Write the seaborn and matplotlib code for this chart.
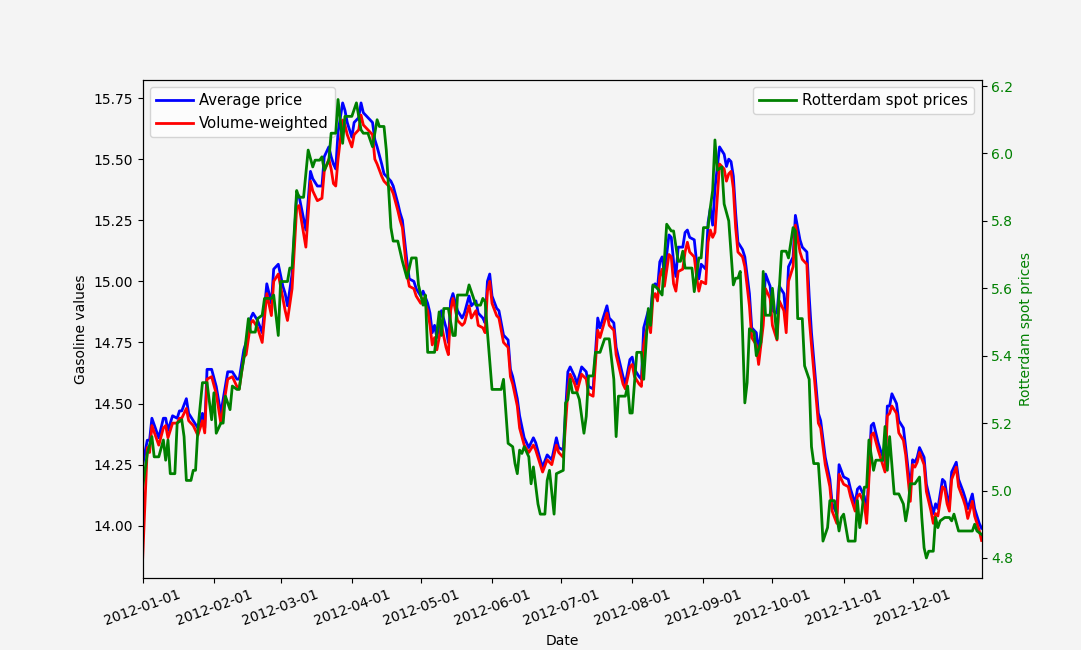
import pandas as pd
import matplotlib
matplotlib.use("Agg")
import matplotlib.pyplot as plt
import matplotlib.dates as mdates
import seaborn as sns

# day of 2012 (0 = 1 Jan) and daily gasoline prices
avg_day = [0, 2, 3, 4, 7, 9, 10, 11, 13, 15, 16, 17, 19, 20, 22, 24, 26, 27, 28, 30,
           32, 34, 37, 39, 41, 42, 44, 45, 47, 48, 50, 52, 54, 56, 57, 59, 61, 62, 63, 65,
           67, 68, 71, 73, 74, 76, 78, 79, 81, 82, 83, 84, 85, 87, 88, 89, 91, 92, 94, 95,
           96, 98, 100, 101, 102, 104, 105, 108, 109, 111, 112, 113, 115, 116, 118, 119, 121, 122, 124, 125,
           126, 127, 128, 130, 132, 133, 134, 135, 137, 139, 140, 142, 143, 145, 146, 148, 149, 150, 151, 152,
           154, 155, 157, 159, 160, 161, 163, 164, 166, 168, 170, 171, 173, 174, 176, 178, 180, 181, 183, 185,
           186, 188, 189, 191, 193, 194, 196, 198, 199, 202, 203, 205, 206, 208, 209, 210, 212, 213, 214, 216,
           217, 218, 220, 221, 222, 223, 224, 225, 226, 227, 229, 230, 231, 232, 233, 235, 236, 237, 238, 240,
           241, 242, 243, 245, 246, 247, 248, 249, 251, 253, 254, 255, 256, 257, 258, 259, 261, 262, 264, 265,
           267, 268, 270, 271, 273, 274, 276, 277, 279, 280, 281, 283, 284, 286, 287, 289, 290, 291, 294, 295,
           297, 299, 300, 302, 303, 305, 307, 308, 310, 311, 312, 314, 315, 317, 318, 320, 321, 323, 324, 325,
           326, 328, 329, 331, 332, 334, 335, 336, 337, 338, 340, 341, 343, 344, 345, 346, 348, 349, 350, 351,
           352, 354, 355, 357, 358, 359, 361, 362, 364, 365]

avg_price = [14.25, 14.35, 14.35, 14.44, 14.36, 14.44, 14.44, 14.39, 14.45, 14.44, 14.47, 14.47, 14.52, 14.46, 14.43, 14.40, 14.46, 14.40, 14.64, 14.64,
             14.57, 14.46, 14.63, 14.63, 14.60, 14.60, 14.72, 14.75, 14.85, 14.87, 14.84, 14.79, 14.99, 14.91, 15.05, 15.07, 14.98, 14.95, 14.90, 15.03,
             15.35, 15.35, 15.21, 15.45, 15.42, 15.39, 15.39, 15.51, 15.55, 15.51, 15.48, 15.46, 15.61, 15.73, 15.70, 15.65, 15.59, 15.65, 15.67, 15.73,
             15.69, 15.67, 15.65, 15.58, 15.55, 15.48, 15.44, 15.41, 15.39, 15.32, 15.28, 15.25, 15.08, 15.01, 15.00, 14.97, 14.94, 14.96, 14.91, 14.87,
             14.79, 14.82, 14.77, 14.88, 14.81, 14.75, 14.92, 14.95, 14.88, 14.85, 14.87, 14.94, 14.90, 14.92, 14.87, 14.85, 14.83, 15.00, 15.03, 14.94,
             14.89, 14.88, 14.78, 14.76, 14.64, 14.61, 14.52, 14.45, 14.36, 14.32, 14.36, 14.34, 14.27, 14.24, 14.29, 14.27, 14.36, 14.32, 14.31, 14.63,
             14.65, 14.61, 14.58, 14.65, 14.63, 14.57, 14.56, 14.85, 14.81, 14.90, 14.85, 14.83, 14.73, 14.65, 14.61, 14.58, 14.68, 14.69, 14.64, 14.61,
             14.60, 14.81, 14.88, 14.87, 14.98, 14.99, 14.97, 15.08, 15.10, 15.03, 15.19, 15.18, 15.08, 15.02, 15.14, 15.14, 15.20, 15.21, 15.18, 15.17,
             15.08, 15.01, 15.07, 15.05, 15.24, 15.30, 15.23, 15.38, 15.55, 15.52, 15.47, 15.50, 15.49, 15.43, 15.28, 15.16, 15.13, 15.10, 14.95, 14.81,
             14.79, 14.71, 14.87, 15.03, 14.98, 14.88, 14.87, 14.98, 14.95, 14.84, 15.06, 15.10, 15.27, 15.17, 15.14, 15.12, 14.94, 14.79, 14.46, 14.43,
             14.28, 14.19, 14.09, 14.05, 14.25, 14.20, 14.19, 14.15, 14.09, 14.15, 14.16, 14.12, 14.04, 14.41, 14.42, 14.34, 14.31, 14.26, 14.49, 14.49,
             14.54, 14.50, 14.43, 14.40, 14.32, 14.15, 14.27, 14.26, 14.28, 14.32, 14.28, 14.17, 14.09, 14.05, 14.09, 14.07, 14.19, 14.18, 14.12, 14.09,
             14.22, 14.26, 14.19, 14.14, 14.11, 14.07, 14.13, 14.07, 14.01, 13.99]

vw_price = [13.87, 14.32, 14.30, 14.41, 14.33, 14.40, 14.41, 14.36, 14.42, 14.42, 14.44, 14.44, 14.48, 14.43, 14.41, 14.37, 14.43, 14.38, 14.60, 14.61,
            14.54, 14.42, 14.60, 14.61, 14.57, 14.56, 14.69, 14.70, 14.83, 14.84, 14.81, 14.75, 14.95, 14.86, 15.00, 15.03, 14.93, 14.88, 14.84, 14.97,
            15.30, 15.31, 15.14, 15.41, 15.37, 15.33, 15.34, 15.45, 15.50, 15.46, 15.40, 15.39, 15.50, 15.66, 15.64, 15.60, 15.55, 15.60, 15.62, 15.68,
            15.64, 15.62, 15.60, 15.50, 15.48, 15.43, 15.41, 15.38, 15.36, 15.29, 15.25, 15.22, 15.03, 14.98, 14.97, 14.94, 14.91, 14.93, 14.88, 14.82,
            14.74, 14.77, 14.72, 14.82, 14.73, 14.70, 14.88, 14.93, 14.84, 14.82, 14.83, 14.90, 14.85, 14.88, 14.82, 14.81, 14.79, 14.96, 15.00, 14.91,
            14.86, 14.85, 14.75, 14.73, 14.61, 14.58, 14.49, 14.40, 14.33, 14.30, 14.33, 14.31, 14.25, 14.22, 14.27, 14.25, 14.33, 14.30, 14.28, 14.55,
            14.62, 14.58, 14.55, 14.62, 14.60, 14.54, 14.53, 14.80, 14.77, 14.87, 14.82, 14.80, 14.70, 14.62, 14.58, 14.56, 14.65, 14.66, 14.61, 14.58,
            14.57, 14.74, 14.84, 14.79, 14.93, 14.95, 14.92, 15.02, 15.05, 14.98, 15.11, 15.10, 14.99, 14.96, 15.04, 15.05, 15.12, 15.16, 15.12, 15.10,
            15.02, 14.96, 15.00, 14.99, 15.16, 15.21, 15.18, 15.20, 15.48, 15.46, 15.41, 15.44, 15.45, 15.38, 15.22, 15.12, 15.10, 15.06, 14.90, 14.77,
            14.74, 14.66, 14.82, 14.97, 14.93, 14.82, 14.76, 14.92, 14.88, 14.79, 15.00, 15.06, 15.23, 15.12, 15.09, 15.07, 14.85, 14.74, 14.42, 14.40,
            14.25, 14.16, 14.06, 14.01, 14.21, 14.17, 14.16, 14.12, 14.06, 14.12, 14.13, 14.09, 14.01, 14.37, 14.38, 14.31, 14.28, 14.22, 14.45, 14.46,
            14.49, 14.46, 14.38, 14.35, 14.29, 14.10, 14.25, 14.24, 14.26, 14.30, 14.25, 14.14, 14.06, 14.01, 14.05, 14.04, 14.16, 14.15, 14.09, 14.06,
            14.19, 14.24, 14.16, 14.11, 14.08, 14.03, 14.10, 14.04, 13.98, 13.94]

# Rotterdam spot prices (right axis)
spot_day = [0, 2, 4, 5, 7, 9, 10, 11, 12, 14, 15, 17, 18, 19, 21, 22, 23, 24, 26, 28,
            30, 31, 32, 34, 35, 36, 38, 39, 41, 42, 43, 44, 46, 47, 49, 50, 52, 53, 56, 57,
            59, 60, 61, 63, 64, 65, 67, 68, 70, 72, 74, 75, 77, 78, 79, 81, 82, 84, 85, 87,
            88, 91, 93, 95, 96, 98, 100, 102, 103, 105, 106, 108, 109, 111, 113, 115, 116, 117, 119, 120,
            122, 123, 124, 127, 129, 130, 131, 133, 135, 136, 137, 141, 142, 143, 145, 147, 148, 149, 150, 152,
            156, 157, 159, 161, 162, 163, 164, 165, 166, 168, 169, 170, 172, 173, 175, 176, 177, 179, 180, 183,
            184, 185, 186, 187, 189, 190, 192, 193, 194, 196, 197, 199, 201, 203, 205, 206, 207, 210, 211, 212,
            213, 215, 217, 218, 220, 221, 222, 224, 226, 228, 230, 231, 233, 234, 235, 236, 239, 240, 242, 243,
            244, 246, 247, 248, 249, 250, 252, 253, 255, 257, 258, 259, 260, 261, 262, 263, 264, 266, 267, 269,
            270, 271, 273, 274, 276, 277, 278, 280, 281, 283, 284, 285, 287, 288, 290, 291, 292, 294, 295, 296,
            298, 299, 301, 303, 304, 305, 307, 309, 310, 311, 312, 313, 314, 315, 316, 318, 319, 322, 323, 324,
            325, 327, 329, 331, 332, 333, 334, 336, 338, 339, 340, 341, 342, 344, 345, 346, 347, 349, 351, 352,
            353, 355, 361, 362, 363, 365]

spot_price = [5.01, 5.11, 5.16, 5.10, 5.10, 5.15, 5.09, 5.15, 5.05, 5.05, 5.20, 5.21, 5.16, 5.03, 5.03, 5.06, 5.06, 5.18, 5.32, 5.32,
              5.21, 5.29, 5.17, 5.20, 5.20, 5.28, 5.24, 5.31, 5.30, 5.30, 5.35, 5.39, 5.51, 5.47, 5.47, 5.51, 5.52, 5.57, 5.57, 5.58,
              5.46, 5.62, 5.62, 5.62, 5.66, 5.66, 5.89, 5.87, 5.87, 6.01, 5.96, 5.98, 5.98, 5.99, 5.95, 5.98, 6.06, 6.06, 6.16, 6.03,
              6.11, 6.11, 6.15, 6.07, 6.06, 6.06, 6.02, 6.10, 6.08, 6.08, 6.01, 5.78, 5.74, 5.74, 5.68, 5.63, 5.66, 5.69, 5.69, 5.61,
              5.55, 5.58, 5.41, 5.41, 5.53, 5.46, 5.54, 5.54, 5.46, 5.46, 5.58, 5.58, 5.61, 5.59, 5.55, 5.55, 5.57, 5.56, 5.47, 5.30,
              5.30, 5.33, 5.14, 5.13, 5.08, 5.05, 5.12, 5.11, 5.13, 5.10, 5.02, 5.07, 4.96, 4.93, 4.93, 5.03, 5.06, 4.93, 5.05, 5.06,
              5.26, 5.27, 5.33, 5.29, 5.29, 5.27, 5.17, 5.22, 5.34, 5.34, 5.41, 5.41, 5.45, 5.45, 5.33, 5.16, 5.28, 5.28, 5.31, 5.23,
              5.23, 5.41, 5.41, 5.33, 5.54, 5.49, 5.61, 5.60, 5.58, 5.79, 5.77, 5.77, 5.68, 5.68, 5.71, 5.66, 5.66, 5.59, 5.69, 5.69,
              5.78, 5.78, 5.84, 5.89, 6.04, 5.95, 5.96, 5.85, 5.80, 5.61, 5.63, 5.63, 5.65, 5.47, 5.26, 5.32, 5.48, 5.47, 5.40, 5.44,
              5.65, 5.52, 5.52, 5.60, 5.45, 5.60, 5.71, 5.71, 5.69, 5.78, 5.77, 5.51, 5.51, 5.37, 5.33, 5.13, 5.08, 5.08, 4.98, 4.85,
              4.89, 4.97, 4.97, 4.88, 4.92, 4.93, 4.85, 4.85, 4.85, 4.97, 4.89, 4.94, 5.01, 5.01, 5.15, 5.06, 5.09, 5.09, 5.19, 5.06,
              5.16, 4.99, 4.99, 4.96, 4.91, 4.95, 5.02, 5.02, 5.04, 4.92, 4.83, 4.80, 4.82, 4.82, 4.92, 4.89, 4.91, 4.92, 4.92, 4.91,
              4.93, 4.88, 4.88, 4.90, 4.88, 4.87]

start = pd.Timestamp("2012-01-01")
gas = pd.DataFrame({
    "Date": start + pd.to_timedelta(avg_day, unit="D"),
    "avg": avg_price,
    "vw": vw_price,
})
spot = pd.DataFrame({
    "Date": start + pd.to_timedelta(spot_day, unit="D"),
    "spot": spot_price,
})

bg = "#f4f4f4"
fig, ax = plt.subplots(figsize=(10.81, 6.5), dpi=100)
fig.patch.set_facecolor(bg)
ax.set_facecolor(bg)
fig.subplots_adjust(left=0.132, right=0.908, bottom=0.111, top=0.877)

sns.lineplot(data=gas, x="Date", y="avg", color="blue", linewidth=2,
             label="Average price", ax=ax)
sns.lineplot(data=gas, x="Date", y="vw", color="red", linewidth=2,
             label="Volume-weighted", ax=ax)
ax.set_ylabel("Gasoline values")
ax.set_xlabel("Date")
ax.set_ylim(13.787, 15.824)
ax.set_xlim(pd.Timestamp("2012-01-01"), pd.Timestamp("2012-12-31"))
ax.legend(loc="upper left", facecolor="white", fontsize=10.7,
          handlelength=2.5, handletextpad=0.4)

ax2 = ax.twinx()
sns.lineplot(data=spot, x="Date", y="spot", color="green", linewidth=2,
             label="Rotterdam spot prices", ax=ax2)
ax2.set_ylim(4.741, 6.218)
ax2.set_ylabel("Rotterdam spot prices", color="green")
ax2.tick_params(axis="y", labelcolor="green")
ax2.legend(loc="upper right", facecolor="white", fontsize=10.7,
           handlelength=2.5, handletextpad=0.4)

ax.xaxis.set_major_locator(mdates.MonthLocator())
ax.xaxis.set_major_formatter(mdates.DateFormatter("%Y-%m-%d"))
for lbl in ax.get_xticklabels():
    lbl.set_rotation(20)

fig.savefig("out.png", dpi=100, facecolor=bg)
